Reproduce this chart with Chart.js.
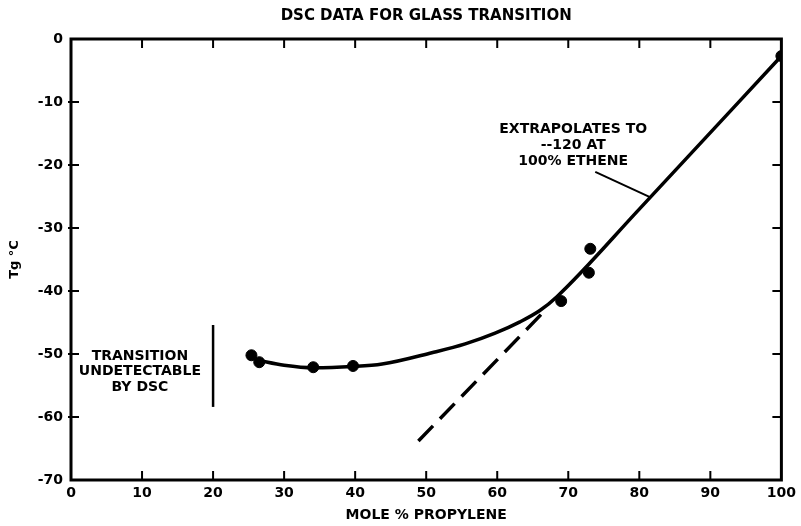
<!DOCTYPE html>
<html>
<head>
<meta charset="utf-8">
<script src="https://cdn.jsdelivr.net/npm/chart.js@4"></script>
<style>
  html, body { margin: 0; padding: 0; background: #fff; }
  #wrap { width: 801px; height: 526px; }
</style>
</head>
<body>
<div id="wrap"><canvas id="dscChart"></canvas></div>
<script>
// measured points
const pointX = [25.4, 26.5, 34.1, 39.7, 69.0, 72.9, 73.1, 100];
const pointY = [-50.2, -51.3, -52.1, -51.9, -41.6, -37.1, -33.3, -2.7];

// hand-drawn fit curve (straight above ~68)
const curveX = [26.3, 30, 34.2, 39.6, 43.8, 50.8, 55.5, 59.7, 63.2, 66.0, 68.4, 80, 100];
const curveY = [-51.0, -51.8, -52.2, -52.0, -51.6, -49.8, -48.4, -46.7, -44.9, -43.1, -40.9, -27.0, -2.7];

// dashed extrapolation
const dashX = [48.9, 66.8];
const dashY = [-63.8, -43.0];

const xTicks = [0, 10, 20, 30, 40, 50, 60, 70, 80, 90, 100];
const yTicks = [0, -10, -20, -30, -40, -50, -60, -70];

const boldFont = "'DejaVu Sans', Verdana, sans-serif";

const toXY = (xs, ys) => xs.map((x, i) => ({ x: x, y: ys[i] }));

// frame, inward ticks, title and notes
const extras = {
    id: "extras",
    afterDatasetsDraw(chart) {
        const { ctx, chartArea: a, scales: { x, y } } = chart;
        ctx.save();
        ctx.strokeStyle = "#000";
        ctx.fillStyle = "#000";

        ctx.lineWidth = 3;
        ctx.strokeRect(a.left, a.top, a.right - a.left, a.bottom - a.top);

        ctx.lineWidth = 2;
        ctx.beginPath();
        xTicks.slice(1, -1).forEach(v => {
            const px = x.getPixelForValue(v);
            ctx.moveTo(px, a.bottom); ctx.lineTo(px, a.bottom - 9);
            ctx.moveTo(px, a.top); ctx.lineTo(px, a.top + 9);
        });
        yTicks.slice(1, -1).forEach(v => {
            const py = y.getPixelForValue(v);
            ctx.moveTo(a.left - 3, py); ctx.lineTo(a.left + 8, py);
            ctx.moveTo(a.right, py); ctx.lineTo(a.right - 9, py);
        });
        ctx.stroke();

        ctx.textAlign = "center";
        ctx.textBaseline = "middle";
        ctx.font = "bold 15px " + boldFont;
        ctx.fillText("DSC DATA FOR GLASS TRANSITION", (a.left + a.right) / 2, 16);

        // limit of detection
        ctx.lineWidth = 2.5;
        ctx.beginPath();
        ctx.moveTo(x.getPixelForValue(20), y.getPixelForValue(-45.4));
        ctx.lineTo(x.getPixelForValue(20), y.getPixelForValue(-58.4));
        ctx.stroke();

        ctx.font = "bold 14px " + boldFont;
        const tx = x.getPixelForValue(9.7);
        ["TRANSITION", "UNDETECTABLE", "BY DSC"].forEach((s, i) => {
            ctx.fillText(s, tx, y.getPixelForValue(-50.3 - i * 2.5));
        });

        const ex = x.getPixelForValue(70.7);
        ["EXTRAPOLATES TO", "--120 AT", "100% ETHENE"].forEach((s, i) => {
            ctx.fillText(s, ex, y.getPixelForValue(-14.3 - i * 2.55));
        });

        // pointer to the line
        ctx.lineWidth = 2;
        ctx.beginPath();
        ctx.moveTo(x.getPixelForValue(73.8), y.getPixelForValue(-21.1));
        ctx.lineTo(x.getPixelForValue(81.5), y.getPixelForValue(-25.1));
        ctx.stroke();

        ctx.restore();
    }
};

new Chart(document.getElementById("dscChart"), {
    type: "scatter",
    data: {
        datasets: [
            {
                label: "fit",
                type: "line",
                data: toXY(curveX, curveY),
                borderColor: "#000",
                borderWidth: 3.5,
                pointRadius: 0,
                cubicInterpolationMode: "monotone",
                fill: false
            },
            {
                label: "extrapolation",
                type: "line",
                data: toXY(dashX, dashY),
                borderColor: "#000",
                borderWidth: 3.5,
                borderDash: [21, 10],
                pointRadius: 0,
                fill: false
            },
            {
                label: "Tg",
                data: toXY(pointX, pointY),
                backgroundColor: "#000",
                borderColor: "#000",
                pointRadius: 5.5
            }
        ]
    },
    options: {
        responsive: true,
        maintainAspectRatio: false,
        animation: false,
        layout: { padding: { left: 0, right: 16, top: 39, bottom: 0 } },
        plugins: {
            legend: { display: false },
            tooltip: { enabled: false }
        },
        scales: {
            x: {
                type: "linear",
                min: 0, max: 100,
                grid: { display: false, drawTicks: false },
                border: { display: false },
                ticks: {
                    stepSize: 10,
                    color: "#000",
                    padding: 5,
                    font: { family: boldFont, size: 14, weight: "bold" }
                },
                title: {
                    display: true,
                    text: "MOLE % PROPYLENE",
                    color: "#000",
                    font: { family: boldFont, size: 14, weight: "bold" },
                    padding: { top: 3, bottom: 2 }
                },
                afterFit: s => { s.height = 46; }
            },
            y: {
                min: -70, max: 0,
                grid: { display: false, drawTicks: false },
                border: { display: false },
                ticks: {
                    stepSize: 10,
                    color: "#000",
                    padding: 8,
                    font: { family: boldFont, size: 14, weight: "bold" }
                },
                title: {
                    display: true,
                    text: "Tg °C",
                    color: "#000",
                    font: { family: boldFont, size: 13, weight: "bold" },
                    padding: { top: 7, bottom: 0 }
                },
                afterFit: s => { s.width = 71; }
            }
        }
    },
    plugins: [extras]
});
</script>
</body>
</html>
